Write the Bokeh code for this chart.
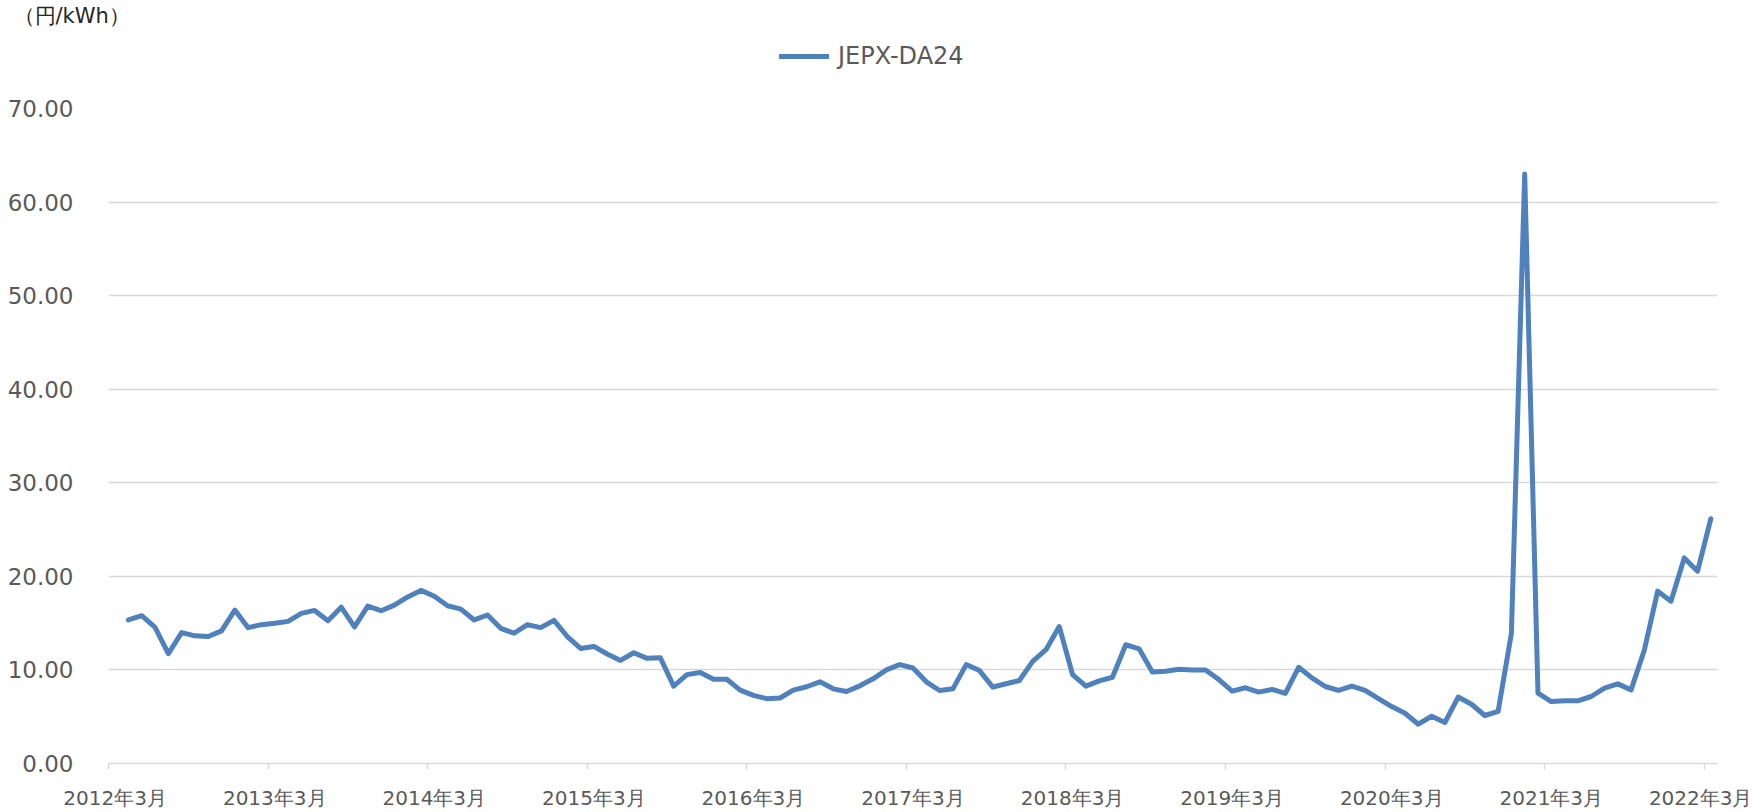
from bokeh.plotting import figure
from bokeh.layouts import column
from bokeh.models import (Range1d, FixedTicker, NumeralTickFormatter, Legend,
                          LegendItem, ColumnDataSource)
from bokeh.embed import file_html
from bokeh.resources import INLINE

# ---- data (monthly, 2012年4月 .. 2022年3月) ----
months = [f"{2012 + (m + 3) // 12}年{(m + 3) % 12 + 1}月" for m in range(120)]
prices = [15.34, 15.8, 14.56, 11.73, 13.99, 13.64, 13.57, 14.17, 16.4, 14.52,
          14.84, 14.98, 15.19, 16.04, 16.36, 15.26, 16.71, 14.6, 16.82, 16.33,
          16.93, 17.8, 18.5, 17.88, 16.86, 16.5, 15.34, 15.87, 14.45, 13.92,
          14.84, 14.52, 15.3, 13.57, 12.3, 12.51, 11.7, 11.02, 11.84, 11.24,
          11.3, 8.27, 9.5, 9.72, 9.0, 9.0, 7.84, 7.28, 6.93, 7.0,
          7.84, 8.2, 8.73, 7.98, 7.7, 8.3, 9.05, 10.0, 10.57, 10.21,
          8.73, 7.8, 7.98, 10.57, 9.93, 8.16, 8.52, 8.87, 10.92, 12.16,
          14.63, 9.5, 8.27, 8.83, 9.22, 12.69, 12.26, 9.79, 9.86, 10.07,
          10.0, 10.0, 8.97, 7.74, 8.09, 7.63, 7.92, 7.49, 10.28, 9.15,
          8.23, 7.81, 8.27, 7.81, 6.93, 6.08, 5.37, 4.2, 5.05, 4.38,
          7.1, 6.33, 5.13, 5.56, 13.9, 63.0, 7.51, 6.62, 6.7, 6.7,
          7.16, 8.05, 8.51, 7.87, 12.13, 18.42, 17.35, 21.97, 20.55, 26.16]
tick_labels = ["2012年3月", "2013年3月", "2014年3月", "2015年3月", "2016年3月",
               "2017年3月", "2018年3月", "2019年3月", "2020年3月", "2021年3月",
               "2022年3月"]
y_ticks = [0, 10, 20, 30, 40, 50, 60, 70]
series_name = "JEPX-DA24"
unit_label = "（円/kWh）"

# category axis: category 0 = 2012年3月 (no data), categories 1..120 = data
n_cat = len(prices) + 1
xs = [i + 1 + 0.5 for i in range(len(prices))]
src = ColumnDataSource(dict(x=xs, y=prices, month=months))

FONT = "DejaVu Sans"
TXT = "#595959"
GRID = "#D9D9D9"
LINE = "#4F81BD"
LW = 5

W, H = 1752, 812
HEAD_H = 70
FRAME_L, FRAME_R = 108, 1717

# ---------- header strip: unit label (title) + legend ----------
head = figure(width=W, height=HEAD_H, output_backend="svg", toolbar_location=None,
              x_range=Range1d(0, n_cat), y_range=Range1d(0, 70),
              x_axis_type=None, y_axis_type=None, min_border=0,
              min_border_left=FRAME_L, min_border_right=W - FRAME_R,
              title=unit_label)
head.outline_line_color = None
head.xgrid.grid_line_color = None
head.ygrid.grid_line_color = None
head.title.align = "left"
head.title.offset = -95
head.title.standoff = 2
head.title.text_font = FONT
head.title.text_font_size = "21px"
head.title.text_font_style = "normal"
head.title.text_color = "#262626"

# legend sample: same series, kept hidden in the header strip
lr = head.line("x", "y", source=src, line_color=LINE, line_width=LW,
               line_cap="round", visible=False)
legend = Legend(items=[LegendItem(label=series_name, renderers=[lr])],
                location=(779 - FRAME_L, 0), orientation="horizontal",
                label_text_font=FONT, label_text_font_size="24px",
                label_text_color=TXT, glyph_width=50, glyph_height=28,
                label_height=28, padding=0, margin=0, spacing=0,
                label_standoff=9, border_line_color=None,
                background_fill_alpha=0, inactive_fill_alpha=0)
head.add_layout(legend, "center")

# ---------- main chart ----------
p = figure(width=W, height=H - HEAD_H, output_backend="svg", toolbar_location=None,
           x_range=Range1d(0, n_cat), y_range=Range1d(0, 70),
           min_border_left=FRAME_L, min_border_right=W - FRAME_R,
           min_border_top=108 - HEAD_H, min_border_bottom=46)
p.outline_line_color = None

r = p.line("x", "y", source=src, line_color=LINE, line_width=LW,
           line_join="round", line_cap="round")

# y axis
p.yaxis.ticker = FixedTicker(ticks=y_ticks)
p.yaxis.formatter = NumeralTickFormatter(format="0.00")
p.yaxis.axis_line_color = None
p.yaxis.major_tick_line_color = None
p.yaxis.major_tick_out = 0
p.yaxis.major_tick_in = 0
p.yaxis.minor_tick_line_color = None
p.yaxis.major_label_text_font = FONT
p.yaxis.major_label_text_font_size = "23px"
p.yaxis.major_label_text_color = TXT
p.yaxis.major_label_standoff = 35
p.ygrid.grid_line_color = GRID
p.ygrid.grid_line_width = 1.5
p.xgrid.grid_line_color = None

# x axis: labels at category centres, tick marks at category boundaries
label_pos = [12 * k + 0.5 for k in range(len(tick_labels))]
p.xaxis.ticker = FixedTicker(ticks=label_pos,
                             minor_ticks=[12 * k for k in range(len(tick_labels))])
p.xaxis.major_label_overrides = {pos: lab for pos, lab in zip(label_pos, tick_labels)}
p.xaxis.axis_line_color = GRID
p.xaxis.axis_line_width = 1.5
p.xaxis.major_tick_line_color = None
p.xaxis.major_tick_out = 6
p.xaxis.major_tick_in = 0
p.xaxis.minor_tick_line_color = GRID
p.xaxis.minor_tick_line_width = 1.5
p.xaxis.minor_tick_out = 6
p.xaxis.minor_tick_in = 0
p.xaxis.major_label_text_font = FONT
p.xaxis.major_label_text_font_size = "20px"
p.xaxis.major_label_text_color = TXT
p.xaxis.major_label_standoff = 16

layout = column(head, p, spacing=0)
open("out.html", "w").write(file_html(layout, INLINE))
